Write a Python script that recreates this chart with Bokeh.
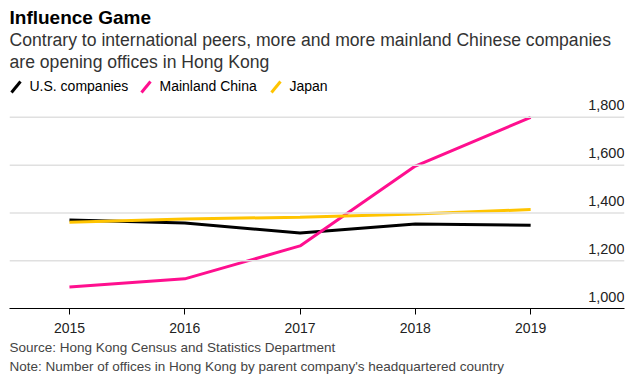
from bokeh.plotting import figure
from bokeh.models import Label, Arrow, Range1d, FixedTicker, ColumnDataSource, Span, Title
from bokeh.core.properties import value
from bokeh.embed import file_html
from bokeh.resources import INLINE

years = [2015, 2016, 2017, 2018, 2019]
us_companies = [1370, 1358, 1316, 1354, 1348]
mainland_china = [1090, 1124, 1262, 1596, 1800]
japan = [1361, 1375, 1382, 1396, 1414]
y_ticks = [1000, 1200, 1400, 1600, 1800]
y_tick_labels = ["1,000", "1,200", "1,400", "1,600", "1,800"]

series_names = ["U.S. companies", "Mainland China", "Japan"]
series_colors = ["#000000", "#ff0f8f", "#ffc400"]
series_values = [us_companies, mainland_china, japan]

FONT = "Liberation Sans"

p = figure(width=633, height=380, output_backend="svg", toolbar_location=None,
           x_range=Range1d(2014.48, 2019.814), y_range=Range1d(1000, 2289),
           min_border_left=9, min_border_right=9, min_border_top=0, min_border_bottom=72,
           outline_line_color=None)

p.xgrid.visible = False
p.ygrid.visible = False
p.yaxis.visible = False

# gridlines
for t in y_ticks[1:]:
    p.add_layout(Span(location=t, dimension="width", line_color="#e0e0e0", line_width=1.5))

# x axis
xa = p.xaxis[0]
xa.ticker = FixedTicker(ticks=years)
xa.axis_line_color = "#000000"
xa.axis_line_width = 1
xa.major_tick_line_color = "#000000"
xa.major_tick_in = 0
xa.major_tick_out = 6
xa.minor_tick_line_color = None
xa.major_label_text_font = FONT
xa.major_label_text_font_size = "14px"
xa.major_label_text_color = "#222222"
xa.major_label_standoff = 8

# y tick labels above gridlines at right
ysrc = ColumnDataSource(dict(x=[2019.814] * len(y_ticks), y=y_ticks, t=y_tick_labels))
p.text(x="x", y="y", text="t", source=ysrc, text_align="right", text_baseline="bottom",
       y_offset=-7, text_font=value(FONT), text_font_size="14.5px", text_color="#222222")

for vals, col in zip(series_values, series_colors):
    p.line(years, vals, line_color=col, line_width=3)

# texts in screen units relative to plot frame (origin at frame bottom-left)
def add_label(txt, x, y, size, color="#000000", style="normal"):
    p.add_layout(Label(x=x, y=y, x_units="screen", y_units="screen", text=txt,
                       text_font=FONT, text_font_size=size, text_color=color,
                       text_font_style=style, text_baseline="top"))

add_label("Influence Game", 0, 302, "19px", "#000000", "bold")
add_label("Contrary to international peers, more and more mainland Chinese companies", 0, 279, "17.6px", "#333333")
add_label("are opening offices in Hong Kong", 0, 257, "17.6px", "#333333")

leg_x = [2, 132, 262]
for name, col, lx in zip(series_names, series_colors, leg_x):
    p.add_layout(Arrow(end=None, x_start=lx, y_start=216, x_end=lx + 9, y_end=227,
                       start_units="screen", end_units="screen", line_color=col, line_width=3))
    add_label(name, lx + 18, 231, "14px", "#000000")

p.add_layout(Title(text="Source: Hong Kong Census and Statistics Department",
                   align="left", text_font=FONT, text_font_size="13.5px", text_line_height=1.0,
                   text_color="#444444", text_font_style="normal", standoff=4, offset=0), "below")
p.add_layout(Title(text="Note: Number of offices in Hong Kong by parent company's headquartered country",
                   align="left", text_font=FONT, text_font_size="13.5px", text_line_height=1.0,
                   text_color="#444444", text_font_style="normal", standoff=0, offset=0), "below")

open("out.html", "w").write(file_html(p, INLINE))
